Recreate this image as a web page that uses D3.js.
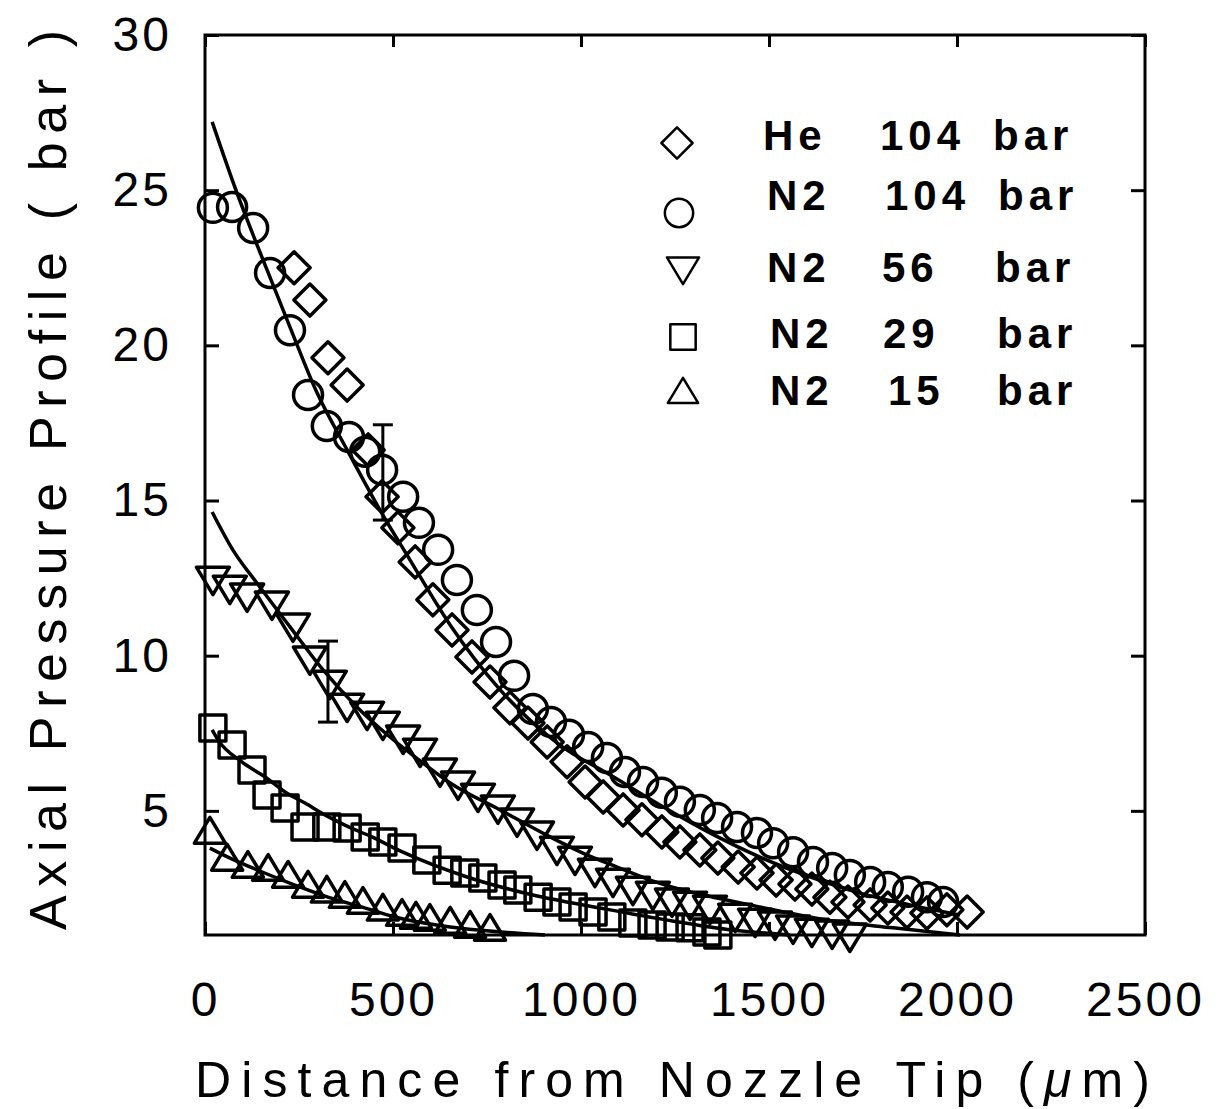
<!DOCTYPE html>
<html><head><meta charset="utf-8">
<script src="https://cdn.jsdelivr.net/npm/d3@7"></script>
<style>body{margin:0;background:#fff}</style>
</head><body>
<svg id="c" width="1221" height="1109"></svg>
<script>
// ---- data (distance in µm, pressure in bar) ----
const he104 = [[237,22.50],[279,21.46],[327,19.60],[378,18.72],[434,16.63],[471,15.12],[513,14.12],[559,13.02],[606,11.80],[657,10.83],[710,9.96],[758,9.15],[811,8.32],[859,7.83],[910,7.22],[963,6.58],[1011,5.93],[1059,5.45],[1112,5.03],[1162,4.71],[1215,4.32],[1263,4.00],[1316,3.74],[1364,3.48],[1418,3.19],[1468,3.00],[1519,2.77],[1569,2.64],[1614,2.48],[1662,2.22],[1710,2.06],[1769,1.97],[1816,1.87],[1867,1.74],[1920,1.71],[1973,1.81],[2027,1.74]];
const n2_104 = [[21,24.43],[72,24.46],[128,23.78],[173,22.33],[226,20.49],[274,18.40],[324,17.40],[383,17.05],[426,16.57],[471,15.99],[527,15.12],[569,14.28],[620,13.41],[670,12.44],[723,11.47],[774,10.44],[822,9.35],[872,8.28],[920,7.86],[968,7.45],[1019,7.06],[1069,6.70],[1117,6.25],[1165,5.93],[1215,5.58],[1263,5.29],[1316,5.03],[1362,4.77],[1415,4.48],[1468,4.29],[1511,3.96],[1564,3.67],[1617,3.35],[1668,3.16],[1715,2.93],[1769,2.71],[1816,2.55],[1870,2.39],[1920,2.22],[1963,2.06]];
const n2_56 = [[21,12.50],[66,12.21],[112,11.96],[178,11.70],[234,10.99],[279,9.93],[332,9.15],[378,8.41],[431,8.15],[473,7.83],[527,7.38],[572,6.96],[625,6.32],[673,5.90],[726,5.51],[779,5.13],[830,4.71],[883,4.29],[936,3.80],[984,3.48],[1037,3.09],[1085,2.77],[1138,2.51],[1191,2.35],[1242,2.13],[1290,2.03],[1343,1.90],[1410,1.64],[1463,1.48],[1516,1.39],[1564,1.26],[1614,1.16],[1668,1.10],[1715,1.00]];
const n2_29 = [[21,7.67],[72,7.12],[125,6.32],[165,5.51],[213,5.09],[266,4.48],[324,4.48],[378,4.45],[426,4.16],[473,4.00],[524,3.80],[590,3.42],[644,3.09],[691,3.00],[739,2.84],[790,2.61],[832,2.45],[886,2.22],[936,2.06],[979,1.90],[1032,1.74],[1082,1.58],[1138,1.39],[1189,1.32],[1237,1.26],[1290,1.23],[1335,1.10],[1364,1.00]];
const n2_15 = [[13,4.29],[59,3.42],[114,3.19],[168,3.09],[221,2.87],[274,2.55],[324,2.39],[372,2.22],[420,2.03],[473,1.81],[524,1.64],[561,1.55],[598,1.48],[652,1.39],[705,1.26],[758,1.16]];

// fitted curves
const fit104 = [[19,27.20],[85,24.91],[165,22.43],[226,20.59],[298,18.47],[378,16.63],[465,14.70],[545,13.09],[652,10.99],[785,8.90],[944,7.12],[1077,6.16],[1210,5.19],[1343,4.29],[1476,3.51],[1609,2.87],[1742,2.35],[1875,1.97],[2008,1.64]];
const fit56 = [[19,14.63],[74,13.41],[138,12.34],[226,10.93],[314,9.54],[404,8.35],[492,7.38],[580,6.54],[652,5.90],[785,5.03],[918,4.16],[1005,3.64],[1096,3.19],[1184,2.77],[1271,2.45],[1362,2.19],[1449,1.97],[1654,1.48],[1830,1.23],[2008,1.00]];
const fit29 = [[19,7.61],[35,7.28],[98,6.58],[160,6.09],[213,5.61],[266,5.25],[319,4.87],[372,4.54],[444,4.16],[519,3.71],[697,2.87],[872,2.29],[1051,1.87],[1229,1.48],[1404,1.16],[1556,1.00]];
const fit15 = [[13,3.80],[61,3.51],[152,3.03],[239,2.61],[327,2.22],[418,1.90],[505,1.58],[652,1.26],[785,1.10],[904,1.00]];

// error bars: [x, low, high]
const errorBars = [[473,14.37,17.44],[327,7.86,10.47]];

const xTicks = [0,500,1000,1500,2000,2500];
const yTicks = [5,10,15,20,25,30];
const legendGas = ["He","N2","N2","N2","N2"];
const legendPressure = ["104","104","56","29","15"];
const legendUnit = "bar";
const xTitle = "Distance from Nozzle Tip (";
const yTitle = "Axial Pressure Profile ( bar )";

// ---- layout ----
const L=205, R=1145, T=35, B=935;
const svg = d3.select('#c');
const x = d3.scaleLinear().domain([0,2500]).range([L,R]);
const y = d3.scaleLinear().domain([1,30]).range([B,T]);

// symbol types
const symDiamond = {draw(c,s){const r=Math.sqrt(s)/2;c.moveTo(0,-r);c.lineTo(r,0);c.lineTo(0,r);c.lineTo(-r,0);c.closePath();}};
const symSquare = {draw(c,s){const h=Math.sqrt(s)/2;c.moveTo(-h,-h);c.lineTo(h,-h);c.lineTo(h,h);c.lineTo(-h,h);c.closePath();}};
const symTriDown = {draw(c,s){const w=Math.sqrt(s);c.moveTo(-w/2,-w*0.33);c.lineTo(w/2,-w*0.33);c.lineTo(0,w*0.5);c.closePath();}};
const symTriUp = {draw(c,s){const w=Math.sqrt(s);c.moveTo(-w/2,w*0.33);c.lineTo(w/2,w*0.33);c.lineTo(0,-w*0.5);c.closePath();}};

const series = [
  {data:he104, type:symDiamond, size:32*32},
  {data:n2_104, type:d3.symbolCircle, size:Math.PI*14.5*14.5},
  {data:n2_56, type:symTriDown, size:33*33},
  {data:n2_29, type:symSquare, size:26*26},
  {data:n2_15, type:symTriUp, size:31*31}
];

// frame
svg.append('rect').attr('x',L).attr('y',T).attr('width',R-L).attr('height',B-T)
  .attr('fill','none').attr('stroke','#000').attr('stroke-width',3);

const tickFont = g => {
  g.select('.domain').remove();
  g.selectAll('line').attr('stroke','#000').attr('stroke-width',3);
  g.selectAll('text').attr('font-family','Liberation Sans, Arial, sans-serif')
    .attr('font-size',48).attr('fill','#000').attr('letter-spacing','3px');
};
const fmt = d3.format('d');
svg.append('g').attr('transform',`translate(0,${B})`)
  .call(d3.axisBottom(x).tickValues(xTicks).tickFormat(fmt).tickSizeInner(-13).tickSizeOuter(0).tickPadding(47)).call(tickFont);
svg.append('g').attr('transform',`translate(${L},0)`)
  .call(d3.axisLeft(y).tickValues(yTicks).tickFormat(fmt).tickSizeInner(-14).tickSizeOuter(0).tickPadding(33)).call(tickFont);
svg.append('g').attr('transform',`translate(0,${T})`)
  .call(d3.axisTop(x).tickValues(xTicks).tickSizeInner(-12).tickSizeOuter(0).tickFormat('')).call(tickFont);
svg.append('g').attr('transform',`translate(${R},0)`)
  .call(d3.axisRight(y).tickValues(yTicks).tickSizeInner(-14).tickSizeOuter(0).tickFormat('')).call(tickFont);

// fit lines
const line = d3.line().x(d=>x(d[0])).y(d=>y(d[1])).curve(d3.curveMonotoneX);
[fit104,fit56,fit29,fit15].forEach(f=>{
  svg.append('path').attr('d',line(f)).attr('fill','none').attr('stroke','#000').attr('stroke-width',3.5);
});

// markers
series.forEach(s=>{
  const sym = d3.symbol().type(s.type).size(s.size);
  svg.append('g').selectAll('path').data(s.data).join('path')
    .attr('d',sym).attr('transform',d=>`translate(${x(d[0])},${y(d[1])})`)
    .attr('fill','none').attr('stroke','#000').attr('stroke-width',3.5).attr('stroke-linejoin','round');
});

// error bars
const eb = svg.append('g').attr('stroke','#000').attr('stroke-width',3);
errorBars.forEach(e=>{
  const cx=x(e[0]);
  eb.append('line').attr('x1',cx).attr('x2',cx).attr('y1',y(e[1])).attr('y2',y(e[2]));
  eb.append('line').attr('x1',cx-10).attr('x2',cx+10).attr('y1',y(e[1])).attr('y2',y(e[1]));
  eb.append('line').attr('x1',cx-10).attr('x2',cx+10).attr('y1',y(e[2])).attr('y2',y(e[2]));
});

// legend
const legY = [143,213,268,337,393];
const legBase = [150,210,282,348,405];
const legGasX = [763,767,767,770,770];
const legPX = [880,885,882,883,888];
const legUX = [993,998,995,997,997];
const lg = svg.append('g');
series.forEach((s,i)=>{
  const sym = d3.symbol().type(s.type).size(s.size*0.95);
  lg.append('path').attr('d',sym).attr('transform',`translate(${i===0?677:(i===1?679:683)},${legY[i]})`)
    .attr('fill','none').attr('stroke','#000').attr('stroke-width',2.5).attr('stroke-linejoin','round');
  const txt = (tx,str)=>lg.append('text').attr('x',tx).attr('y',legBase[i]).text(str)
    .attr('font-family','Liberation Sans, Arial, sans-serif').attr('font-weight','bold')
    .attr('font-size',42).attr('letter-spacing','5px').attr('fill','#000');
  txt(legGasX[i],legendGas[i]);
  txt(legPX[i],legendPressure[i]);
  txt(legUX[i],legendUnit);
});

// axis titles
function fitText(t, target){
  const n = t.text().length;
  const len = t.node().getComputedTextLength();
  t.attr('letter-spacing',((target-len)/(n-1))+'px');
}
const xt = svg.append('text').attr('x',195).attr('y',1097)
  .attr('font-family','Liberation Sans, Arial, sans-serif').attr('font-size',50).attr('fill','#000');
xt.append('tspan').text(xTitle);
xt.append('tspan').attr('font-style','italic').text('\u03bc');
xt.append('tspan').text('m)');
fitText(xt, 955);

const yt = svg.append('text').attr('transform','translate(66,930) rotate(-90)')
  .attr('font-family','Liberation Sans, Arial, sans-serif').attr('font-size',52).attr('fill','#000')
  .text(yTitle);
fitText(yt, 900);
</script>
</body></html>
